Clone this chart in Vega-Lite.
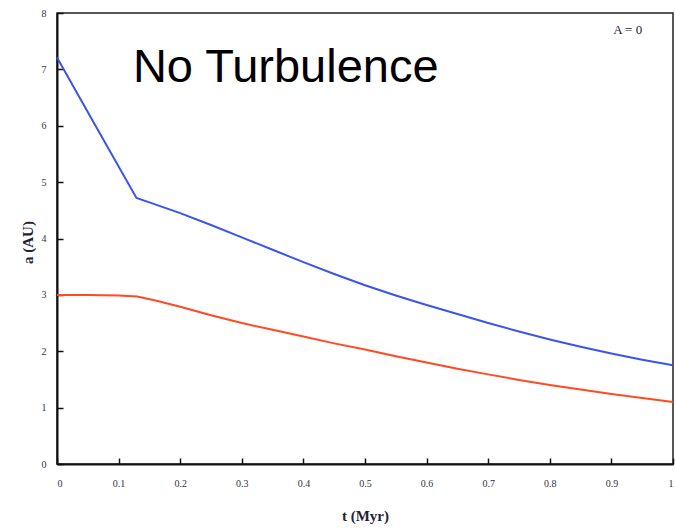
{
  "$schema": "https://vega.github.io/schema/vega-lite/v6.json",
  "width": 616,
  "height": 451,
  "autosize": {"type": "none"},
  "padding": {"left": 57, "top": 13, "right": 2, "bottom": 66},
  "background": "white",
  "config": {
    "view": {"stroke": "#222", "strokeWidth": 1.5},
    "axis": {
      "domainColor": "#111",
      "domainWidth": 2,
      "tickColor": "#111",
      "tickWidth": 1.5,
      "tickSize": -6,
      "grid": false,
      "zindex": 1,
      "labelFont": "Liberation Serif",
      "labelFontSize": 10,
      "labelColor": "#334",
      "titleFont": "Liberation Serif",
      "titleFontWeight": "bold",
      "titleColor": "#223",
      "titleFontSize": 15
    }
  },
  "datasets": {
    "curves": [
      {"t": 0.0, "a": 7.21, "s": "outer"},
      {"t": 0.06, "a": 6.05, "s": "outer"},
      {"t": 0.129, "a": 4.72, "s": "outer"},
      {"t": 0.15, "a": 4.64, "s": "outer"},
      {"t": 0.2, "a": 4.45, "s": "outer"},
      {"t": 0.25, "a": 4.24, "s": "outer"},
      {"t": 0.3, "a": 4.02, "s": "outer"},
      {"t": 0.35, "a": 3.8, "s": "outer"},
      {"t": 0.4, "a": 3.58, "s": "outer"},
      {"t": 0.45, "a": 3.37, "s": "outer"},
      {"t": 0.5, "a": 3.17, "s": "outer"},
      {"t": 0.55, "a": 2.99, "s": "outer"},
      {"t": 0.6, "a": 2.82, "s": "outer"},
      {"t": 0.65, "a": 2.66, "s": "outer"},
      {"t": 0.7, "a": 2.5, "s": "outer"},
      {"t": 0.75, "a": 2.35, "s": "outer"},
      {"t": 0.8, "a": 2.21, "s": "outer"},
      {"t": 0.85, "a": 2.08, "s": "outer"},
      {"t": 0.9, "a": 1.96, "s": "outer"},
      {"t": 0.95, "a": 1.85, "s": "outer"},
      {"t": 1.0, "a": 1.75, "s": "outer"},
      {"t": 0.0, "a": 3.0, "s": "inner"},
      {"t": 0.05, "a": 3.0, "s": "inner"},
      {"t": 0.1, "a": 2.99, "s": "inner"},
      {"t": 0.13, "a": 2.97, "s": "inner"},
      {"t": 0.16, "a": 2.9, "s": "inner"},
      {"t": 0.2, "a": 2.79, "s": "inner"},
      {"t": 0.25, "a": 2.64, "s": "inner"},
      {"t": 0.3, "a": 2.5, "s": "inner"},
      {"t": 0.35, "a": 2.38, "s": "inner"},
      {"t": 0.4, "a": 2.26, "s": "inner"},
      {"t": 0.45, "a": 2.14, "s": "inner"},
      {"t": 0.5, "a": 2.03, "s": "inner"},
      {"t": 0.55, "a": 1.91, "s": "inner"},
      {"t": 0.6, "a": 1.8, "s": "inner"},
      {"t": 0.65, "a": 1.69, "s": "inner"},
      {"t": 0.7, "a": 1.59, "s": "inner"},
      {"t": 0.75, "a": 1.49, "s": "inner"},
      {"t": 0.8, "a": 1.4, "s": "inner"},
      {"t": 0.85, "a": 1.32, "s": "inner"},
      {"t": 0.9, "a": 1.24, "s": "inner"},
      {"t": 0.95, "a": 1.17, "s": "inner"},
      {"t": 1.0, "a": 1.1, "s": "inner"}
    ],
    "notes": [
      {"t": 0.3713, "a": 6.77, "label": "No Turbulence"}
    ],
    "notes2": [
      {"t": 0.95, "a": 7.63, "label": "A = 0"}
    ]
  },
  "layer": [
    {
      "data": {"name": "curves"},
      "mark": {"type": "line", "strokeWidth": 2},
      "encoding": {
        "x": {
          "field": "t", "type": "quantitative",
          "scale": {"domain": [0, 1], "nice": false},
          "axis": {
            "values": [0, 0.1, 0.2, 0.3, 0.4, 0.5, 0.6, 0.7, 0.8, 0.9, 1],
            "format": "~g",
            "labelPadding": 20,
            "title": "t (Myr)",
            "titleY": 56,
            "titleBaseline": "alphabetic"
          }
        },
        "y": {
          "field": "a", "type": "quantitative",
          "scale": {"domain": [0, 8], "nice": false},
          "axis": {
            "values": [0, 1, 2, 3, 4, 5, 6, 7, 8],
            "format": "~g",
            "labelPadding": 17,
            "title": "a (AU)",
            "titleX": -25,
            "titleY": 229,
            "titleBaseline": "alphabetic"
          }
        },
        "color": {
          "field": "s", "type": "nominal",
          "scale": {"domain": ["outer", "inner"], "range": ["#3a55ee", "#ff4a22"]},
          "legend": null
        }
      }
    },
    {
      "data": {"name": "notes"},
      "mark": {"type": "text", "font": "Liberation Sans", "fontSize": 47, "align": "center", "baseline": "alphabetic", "color": "#000"},
      "encoding": {
        "x": {"field": "t", "type": "quantitative"},
        "y": {"field": "a", "type": "quantitative"},
        "text": {"field": "label"}
      }
    },
    {
      "data": {"name": "notes2"},
      "mark": {"type": "text", "font": "Liberation Serif", "fontSize": 13, "align": "right", "baseline": "alphabetic", "color": "#223"},
      "encoding": {
        "x": {"field": "t", "type": "quantitative"},
        "y": {"field": "a", "type": "quantitative"},
        "text": {"field": "label"}
      }
    }
  ]
}
